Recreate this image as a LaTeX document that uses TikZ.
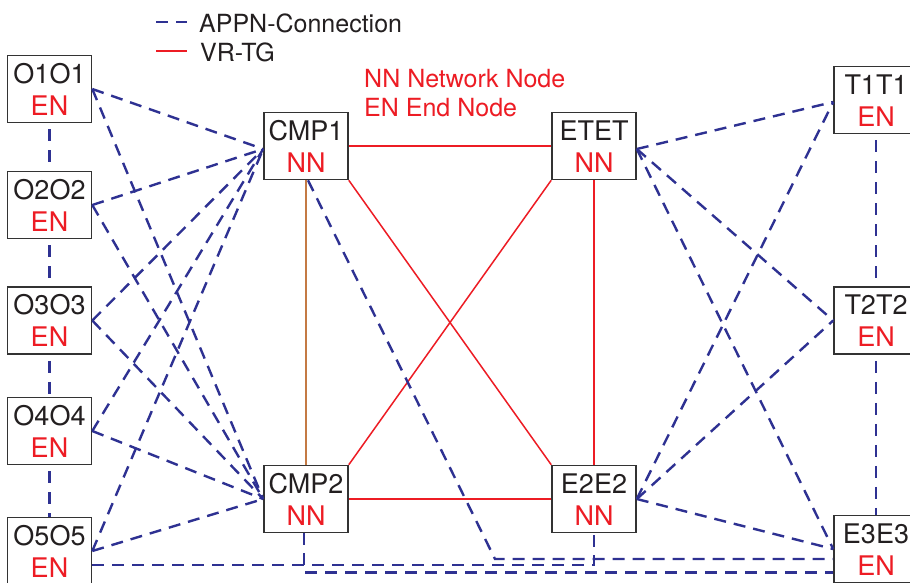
\documentclass[tikz,border=0pt]{standalone}
\usepackage{fontspec}
\setmainfont{TeX Gyre Heros}
\usetikzlibrary{calc}
\definecolor{appnblue}{RGB}{46,49,146}
\definecolor{vrred}{RGB}{237,28,36}
\definecolor{linkbrown}{RGB}{196,122,68}
\definecolor{framegray}{RGB}{51,51,51}
\definecolor{inkblack}{RGB}{35,31,32}
\begin{document}
\begin{tikzpicture}[x=1pt,y=-1pt,
  box/.style={draw=framegray,line width=1.6pt,fill=white,minimum width=84pt,minimum height=67pt,inner sep=0pt},
  nametext/.style={anchor=base,inner sep=0pt,font=\fontsize{27}{32}\selectfont,text=inkblack},
  kindtext/.style={anchor=base,inner sep=0pt,font=\fontsize{27}{32}\selectfont,text=vrred},
  legendtext/.style={anchor=base west,inner sep=0pt,font=\fontsize{25}{30}\selectfont},
  appn/.style={draw=appnblue,line width=2.4pt,dash pattern=on 12pt off 8pt},
  chain/.style={draw=appnblue,line width=2.4pt,dash pattern=on 12pt off 9pt,dash phase=15pt},
  vrtg/.style={draw=vrred,line width=1.5pt},
  cplink/.style={draw=linkbrown,line width=1.7pt}]

\useasboundingbox (0,0) rectangle (910,582);
\clip (0,0) rectangle (910,582);
\fill[white] (0,0) rectangle (910,582);

% nodes: box, name line, role line
\foreach \n/\x/\y/\name/\kind in {
    O1/49.5/89/O1O1/EN, O2/49.5/205/O2O2/EN, O3/49.5/320.5/O3O3/EN,
    O4/49.5/431/O4O4/EN, O5/49.5/551/O5O5/EN,
    CMP1/306/146/CMP1/NN, CMP2/306/499/CMP2/NN,
    ETET/594/146/ETET/NN, E2E2/594/499/E2E2/NN,
    T1/876/100/T1T1/EN, T2/876/320.5/T2T2/EN, E3/876/549/E3E3/EN} {
  \node[box] (\n) at (\x,\y) {};
  \node[nametext] (\n-name) at ($(\n.center)+(0,-6)$) {\name};
  \node[kindtext] (\n-kind) at ($(\n.center)+(0,26)$) {\kind};
}

% attachment points
\coordinate (CMP1in) at ($(CMP1.west)+(0,3)$);
\coordinate (ETETout) at ($(ETET.east)+(0,3)$);
\coordinate (T1in) at ($(T1.west)+(0,2)$);

% VR-TG links between the network nodes
\draw[vrtg] (CMP1.east) -- (ETET.west);
\draw[vrtg] (CMP1.south east) -- (E2E2.north west);
\draw[vrtg] (ETET.south west) -- (CMP2.north east);
\draw[vrtg] (ETET.south) -- (E2E2.north);
\draw[vrtg] (CMP2.east) -- (E2E2.west);
\draw[cplink] (CMP1.south) -- (CMP2.north);

% APPN connections, left column
\draw[chain] (O1.south) -- (O2.north);
\draw[chain] (O2.south) -- (O3.north);
\draw[chain] (O3.south) -- (O4.north);
\draw[chain] (O4.south) -- (O5.north);
\foreach \o in {O1,O2,O3,O4,O5} {
  \draw[appn] (\o.east) -- (CMP1in);
  \draw[appn] (\o.east) -- (CMP2.west);
}

% APPN connections, right column
\draw[chain] (T1.south) -- (T2.north);
\draw[chain] (T2.south) -- (E3.north);
\foreach \s in {ETETout,E2E2.east} {
  \draw[appn] (\s) -- (T1in);
  \draw[appn] (\s) -- (T2.west);
  \draw[appn] (\s) -- (E3.west);
}

% routed connections along the bottom
\coordinate (kneeA) at (495,559);
\draw[appn] ($(CMP1.south)+(2,0)$) -- (kneeA) -- (kneeA -| E3.west);
\coordinate (O5low) at ($(O5.east)+(0,14)$);
\draw[appn] (O5low) -- (O5low -| E2E2.south) -- (E2E2.south);
\coordinate (CMP2down) at ($(CMP2.south)+(-2,39)$);
\draw[appn] ($(CMP2.south)+(-2,0)$) -- (CMP2down) -- (CMP2down -| E3.west);

% legend
\coordinate (legA1) at (156,22);
\coordinate (legA2) at (187,22);
\draw[appn] (legA1) -- (legA2);
\node[legendtext,text=inkblack] (legA) at (199,32) {APPN-Connection};
\coordinate (legB1) at (156,51);
\coordinate (legB2) at (187,51);
\draw[vrtg] (legB1) -- (legB2);
\node[legendtext,text=inkblack] (legB) at (200,61) {VR-TG};
\node[legendtext,text=vrred] (nnkey) at (364,87) {NN Network Node};
\node[legendtext,text=vrred] (enkey) at (364,116) {EN End Node};
\end{tikzpicture}
\end{document}
